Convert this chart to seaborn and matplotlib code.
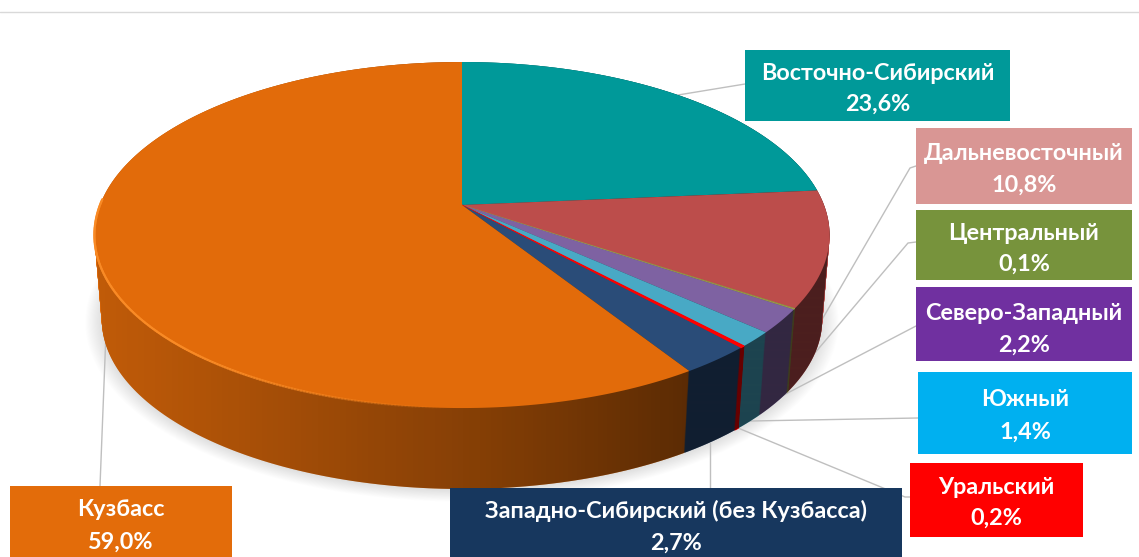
import numpy as np
import matplotlib
matplotlib.use('Agg')
import matplotlib.pyplot as plt
import seaborn as sns
from matplotlib.patches import PathPatch, Rectangle
from matplotlib.path import Path
from matplotlib.transforms import Affine2D, Transform

regions = ['Восточно-Сибирский', 'Дальневосточный', 'Центральный', 'Северо-Западный',
           'Южный', 'Уральский', 'Западно-Сибирский (без Кузбасса)', 'Кузбасс']
shares = [23.6, 10.8, 0.1, 2.2, 1.4, 0.2, 2.7, 59.0]

slice_colors = ['#009999', '#BC4D4B', '#9A9A48', '#7E62A2', '#48A9C5', '#FF0000', '#2A4C78', '#E26B0A']
box_colors = ['#009999', '#D99694', '#77933C', '#7030A0', '#00B0F0', '#FF0000', '#17375E', '#E36C0A']

# x0, x1, y0, y1 of label boxes, in pixels
boxes = [(745, 1010, 50, 121), (916, 1132, 128, 204), (916, 1132, 210, 280), (916, 1132, 287, 361),
         (918, 1132, 372, 454), (910, 1083, 463, 537), (450, 902, 488, 560), (10, 232, 486, 560)]
text_rows = [(71, 102), (152, 183), (231, 262), (312, 343), (398, 430), (485, 516), (509, 541), (508, 540)]
leaders = [[(745, 84), (678, 95)],
           [(916, 166), (910, 168), (820, 323)],
           [(916, 242), (908, 243), (803, 367)],
           [(916, 326), (778, 398)],
           [(918, 418), (750, 421)],
           [(910, 497), (905, 497), (738, 428)],
           [(710, 488), (710, 443)],
           [(100, 486), (106, 333)]]


class Tilt(Transform):
    # unit disc to picture pixels, with perspective
    input_dims = 2
    output_dims = 2
    is_separable = False

    def __init__(self, cx=462.0, cy=205.0, a=362.0, b=167.8, k=0.1736):
        super().__init__()
        self.cx, self.cy, self.a, self.b, self.k = cx, cy, a, b, k

    def transform_non_affine(self, values):
        values = np.asarray(values, dtype=float)
        w = 1 + self.k * values[:, 1]
        return np.column_stack([self.cx + self.a * values[:, 0] / w, self.cy - self.b * values[:, 1] / w])

    def transform_path_non_affine(self, path):
        polys = path.to_polygons(Affine2D().scale(2000), closed_only=False)
        return Path(self.transform_non_affine(polys[0] / 2000))


def arc(tilt, start, stop):
    ang = np.radians(np.linspace(start, stop, 200))
    return tilt.transform_non_affine(np.column_stack([np.cos(ang), np.sin(ang)]))


sns.set_theme(style='white')
plt.rcParams['font.family'] = ['Lato', 'Open Sans', 'DejaVu Sans']
palette = sns.color_palette(slice_colors)

fig = plt.figure(figsize=(11.39, 5.57), dpi=100)
ax = fig.add_axes([0, 0, 1, 1])


def draw_pie(tilt, colors, zorder, alpha=None, values=shares):
    wedges, _ = ax.pie(values, colors=colors, startangle=90, counterclock=False, normalize=True,
                       wedgeprops={'linewidth': 0, 'antialiased': True, 'alpha': alpha})
    for w, v in zip(wedges, values):
        w.set_transform(tilt + ax.transData)
        w.set_zorder(zorder)
        # the thinnest slices get a hairline so they stay visible
        if v < 1:
            w.set_edgecolor(w.get_facecolor())
            w.set_linewidth(4 * v)


# soft shadow under the disc
for s in np.linspace(0.0, 0.045, 16):
    draw_pie(Tilt(cy=291, a=355 * (1 + s), b=164.5 * (1 + s * 1.3)), ['black'], 1, alpha=0.009, values=[1])

# side wall as a stack of discs, bottom to top
depth = 85
for t in np.linspace(1, 0, depth):
    scale = 1 - 0.02 * t
    draw_pie(Tilt(cy=205 + depth * t, a=362 * scale, b=167.8 * scale), palette, 3)

# darkening of the wall from left to right
wall_x = np.arange(0, 1139)
wall_alpha = np.interp(wall_x, [100, 300, 500, 690, 830], [0.15, 0.29, 0.43, 0.60, 0.60])
shade = np.zeros((1, wall_x.size, 4))
shade[0, :, 3] = wall_alpha
im = ax.imshow(shade, extent=(0, 1139, 557, 0), aspect='auto', zorder=4, interpolation='bilinear')
low = arc(Tilt(cy=205 + depth, a=362 * 0.98, b=167.8 * 0.98), 190, 350)
up = arc(Tilt(), -10, 190)
clip = PathPatch(Path(np.vstack([low, up, low[:1]])), transform=ax.transData, facecolor='none', edgecolor='none')
ax.add_patch(clip)
im.set_clip_path(clip)

# top face
draw_pie(Tilt(), palette, 5)

# light rim on the front left edge, fading out towards the front
rim = arc(Tilt(), 178, 268)
rim_alpha = np.interp(np.arange(len(rim) - 1), [0, 110, 199], [1.0, 1.0, 0.0])
for i in range(len(rim) - 1):
    ax.plot(rim[i:i + 2, 0], rim[i:i + 2, 1], color='#F98A25', lw=1.6, alpha=rim_alpha[i], zorder=6)

# leader lines
for pts in leaders:
    xs, ys = zip(*pts)
    ax.plot(xs, ys, color='#BFBFBF', lw=1.0, zorder=2)

# label boxes
for name, share, color, (x0, x1, y0, y1), (r1, r2) in zip(regions, shares, box_colors, boxes, text_rows):
    ax.add_patch(Rectangle((x0, y0), x1 - x0, y1 - y0, facecolor=color, edgecolor='none', zorder=7))
    xc = (x0 + x1) / 2
    ax.text(xc, r1, name, color='white', fontsize=16.8, fontweight='bold', ha='center', va='center_baseline', zorder=8)
    ax.text(xc, r2, f'{share:.1f}%'.replace('.', ','), color='white', fontsize=16.8, fontweight='bold',
            ha='center', va='center_baseline', zorder=8)

ax.plot([0, 1139], [12, 12], color='#D9D9D9', lw=1.0, zorder=1)

ax.set_aspect('auto')
ax.set_xlim(0, 1139)
ax.set_ylim(557, 0)
ax.axis('off')
fig.savefig('out.png', dpi=100, facecolor='white')
